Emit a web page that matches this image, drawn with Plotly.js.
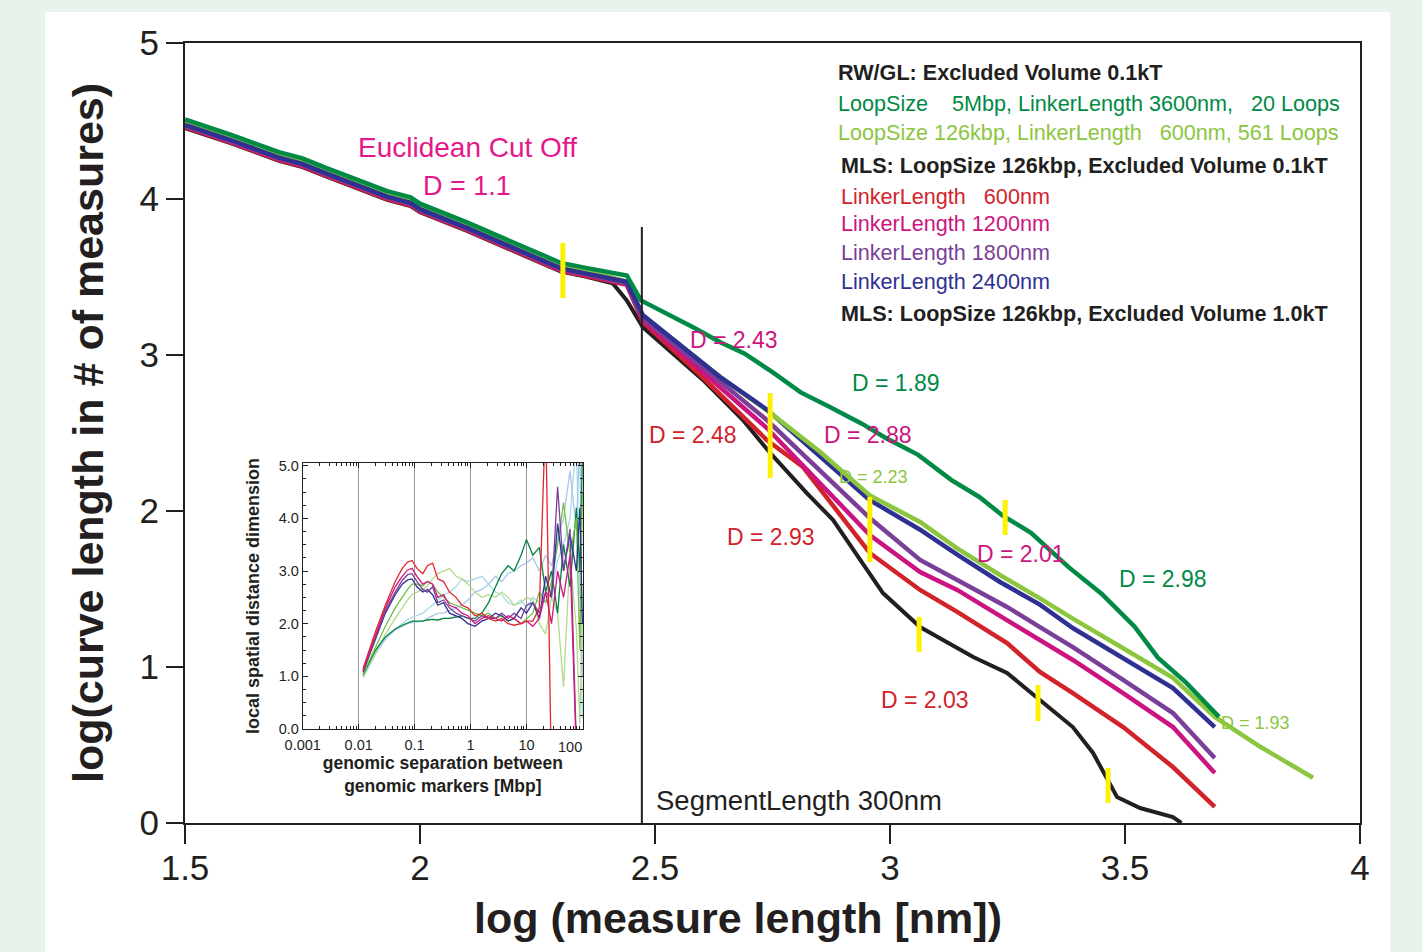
<!DOCTYPE html>
<html><head><meta charset="utf-8">
<script src="https://cdn.plot.ly/plotly-3.0.1.min.js"></script>
<style>
html,body{margin:0;padding:0;background:#e8f3ec;width:1422px;height:952px;overflow:hidden;}
#chart{position:absolute;left:45px;top:12px;width:1345px;height:940px;background:#fff;}
</style></head><body><div id="chart"></div>
<script>
// ---------- main chart data: log(measure length [nm]) vs log(curve length) ----------
const darkGreenX = [1.5,1.6,1.7,1.75,1.8,1.85,1.93,1.98,2.0,2.1,2.2,2.3,2.35,2.44,2.47,2.51,2.58,2.64,2.69,2.75,2.81,2.87,2.94,2.99,3.06,3.13,3.19,3.24,3.30,3.38,3.45,3.52,3.57,3.63,3.70];
const darkGreenY = [4.51,4.41,4.30,4.26,4.20,4.14,4.05,4.01,3.97,3.85,3.72,3.59,3.56,3.51,3.35,3.29,3.18,3.08,3.01,2.89,2.76,2.67,2.56,2.47,2.36,2.20,2.09,1.97,1.86,1.64,1.47,1.26,1.06,0.90,0.68];

const lightGreenX = [1.5,1.6,1.7,1.75,1.8,1.85,1.93,1.98,2.0,2.1,2.2,2.3,2.35,2.44,2.474,2.568,2.638,2.745,2.851,2.957,3.064,3.143,3.234,3.319,3.389,3.496,3.602,3.691,3.787,3.900];
const lightGreenY = [4.495,4.395,4.285,4.245,4.185,4.125,4.035,3.995,3.955,3.835,3.705,3.575,3.545,3.47,3.25,3.03,2.86,2.63,2.38,2.10,1.93,1.76,1.59,1.44,1.31,1.12,0.93,0.68,0.49,0.29];
const lightGreenSplit = 2.745; // below this it runs hidden under the bundle

const blueX = [1.5,1.6,1.7,1.75,1.8,1.85,1.93,1.98,2.0,2.1,2.2,2.3,2.35,2.44,2.474,2.568,2.638,2.738,2.957,3.064,3.143,3.234,3.319,3.389,3.496,3.602,3.691];
const blueY = [4.475,4.375,4.265,4.225,4.165,4.105,4.015,3.975,3.935,3.815,3.685,3.555,3.525,3.47,3.256,3.03,2.86,2.65,2.07,1.88,1.72,1.545,1.40,1.25,1.06,0.865,0.615];

const purpleX = [1.5,1.6,1.7,1.75,1.8,1.85,1.93,1.98,2.0,2.1,2.2,2.3,2.35,2.44,2.474,2.596,2.738,2.957,3.064,3.143,3.249,3.319,3.389,3.496,3.602,3.691];
const purpleY = [4.47,4.37,4.26,4.22,4.16,4.10,4.01,3.97,3.93,3.81,3.68,3.55,3.52,3.46,3.236,2.936,2.583,1.955,1.686,1.558,1.385,1.256,1.128,0.917,0.705,0.417];

const magentaX = [1.5,1.6,1.7,1.75,1.8,1.85,1.93,1.98,2.0,2.1,2.2,2.3,2.35,2.44,2.474,2.596,2.738,2.957,3.064,3.143,3.249,3.319,3.389,3.496,3.602,3.691];
const magentaY = [4.465,4.365,4.255,4.215,4.155,4.095,4.005,3.965,3.925,3.805,3.675,3.545,3.515,3.455,3.224,2.904,2.532,1.846,1.609,1.494,1.301,1.173,1.045,0.833,0.615,0.321];

const redX = [1.5,1.6,1.7,1.75,1.8,1.85,1.93,1.98,2.0,2.1,2.2,2.3,2.35,2.44,2.474,2.596,2.738,2.815,2.957,3.064,3.143,3.249,3.319,3.389,3.496,3.602,3.691];
const redY = [4.46,4.36,4.25,4.21,4.15,4.09,4.00,3.96,3.92,3.80,3.67,3.54,3.51,3.45,3.212,2.872,2.455,2.282,1.731,1.494,1.353,1.154,0.968,0.833,0.615,0.359,0.103];

const blackX = [1.5,1.6,1.7,1.75,1.8,1.85,1.93,1.98,2.0,2.1,2.2,2.3,2.35,2.41,2.44,2.474,2.602,2.687,2.745,2.823,2.879,2.957,2.985,3.064,3.177,3.249,3.319,3.389,3.432,3.462,3.483,3.532,3.602,3.62];
const blackY = [4.455,4.355,4.245,4.205,4.145,4.085,3.995,3.955,3.915,3.795,3.665,3.535,3.505,3.46,3.35,3.179,2.840,2.583,2.372,2.115,1.942,1.603,1.474,1.256,1.064,0.962,0.788,0.615,0.449,0.276,0.167,0.096,0.038,0.0];

// yellow crossover markers (x, lower y, upper y)
const markerX  = [2.304, 2.745, 2.957, 3.245, 3.062, 3.315, 3.464];
const markerLo = [3.365, 2.212, 1.673, 1.846, 1.096, 0.654, 0.128];
const markerHi = [3.718, 2.756, 2.090, 2.071, 1.321, 0.885, 0.353];

// segment length cut line
const cutX = 2.472;
const cutTop = 3.82;

// ---------- inset data: local spatial distance dimension vs genomic separation [Mbp] ----------
const insetX = [0.012,0.02,0.03,0.045,0.06,0.075,0.09,0.11,0.14,0.17,0.21,0.26,0.33,0.42,0.55,0.7,0.9,1.2,1.6,2.1,2.8,3.6,4.7,6,8,10,13,17,22,28,36,46,60,78,90,100];
const insetCyan      = [0.97,1.42,1.70,1.90,2.00,2.08,2.12,2.15,2.20,2.28,2.35,2.45,2.55,2.60,2.70,2.85,2.80,2.85,2.90,2.75,2.60,2.55,2.40,2.35,2.45,2.30,2.50,2.40,2.80,2.60,3.20,3.50,4.00,5.50,2.50,0.20];
const insetLightBlue = [1.00,1.45,1.72,1.88,1.95,2.00,2.02,2.03,2.05,2.10,2.15,2.20,2.20,2.25,2.30,2.35,2.45,2.60,2.65,2.75,2.90,2.80,2.95,3.00,3.10,3.15,3.25,3.00,3.30,3.10,3.60,4.00,4.90,3.80,5.50,1.00];
const insetPaleGreen = [1.00,1.45,1.80,2.10,2.30,2.45,2.55,2.60,2.65,2.72,2.85,2.95,3.00,3.05,2.90,2.85,2.75,2.60,2.50,2.55,2.50,2.60,2.50,2.35,2.40,2.50,2.45,2.00,1.80,2.50,2.20,0.80,3.30,1.90,0.10,2.20];
const insetDarkGreen = [1.03,1.50,1.75,1.90,1.97,2.02,2.05,2.05,2.05,2.07,2.08,2.07,2.10,2.10,2.12,2.15,2.10,2.10,2.20,2.40,2.70,2.95,3.10,3.00,3.30,3.60,3.30,3.45,2.60,3.00,2.20,3.50,2.70,4.20,3.00,5.20];
const insetGreen     = [1.05,1.55,1.95,2.30,2.50,2.65,2.75,2.75,2.72,2.80,2.75,2.60,2.50,2.40,2.35,2.30,2.25,2.20,2.15,2.20,2.10,2.15,2.05,2.10,2.00,2.10,2.20,2.60,2.40,2.80,3.50,4.30,3.30,4.00,1.50,4.50];
const insetBlue      = [1.08,1.70,2.20,2.55,2.75,2.83,2.85,2.70,2.60,2.65,2.55,2.35,2.40,2.20,2.15,2.10,2.00,1.95,2.05,2.10,2.20,2.15,2.05,2.10,2.30,2.20,2.40,2.10,2.90,2.50,3.90,3.00,3.70,3.00,4.20,2.00];
const insetPurple    = [1.10,1.75,2.25,2.60,2.82,2.93,2.95,2.80,2.65,2.60,2.70,2.40,2.45,2.30,2.20,2.15,2.10,2.05,2.15,2.10,2.10,2.20,2.10,2.20,2.10,2.35,2.40,2.20,2.60,2.50,4.60,3.00,3.80,-0.30,null,null];
const insetMagenta   = [1.12,1.80,2.30,2.70,2.90,3.02,3.05,2.90,2.75,2.80,2.75,2.50,2.55,2.35,2.30,2.20,2.15,2.00,2.10,2.15,2.10,2.05,2.15,2.10,2.00,2.05,1.95,2.10,2.60,2.00,3.00,2.50,3.30,-0.50,null,null];
const insetRed       = [1.15,1.85,2.35,2.80,3.05,3.17,3.20,3.05,2.95,3.10,3.15,2.85,2.80,2.60,2.50,2.35,2.30,2.15,2.20,2.10,2.05,2.10,2.00,1.97,2.00,2.05,2.05,2.30,6.00,-1.00,null,null,null,null,null,null];
const insetTickVals = [0.001,0.01,0.1,1,10,100];
const insetTickText = ['0.001','0.01','0.1','1','10',''];

// ---------- styling ----------
const FONT = 'Liberation Sans, Arial, Helvetica, sans-serif';
const INK = '#231f20';
const C = {
  dkgreen:'#008a45', ltgreen:'#8cc63f', red:'#d2232a', magenta:'#cc1480',
  purple:'#7a3f98', blue:'#2e3192', black:'#231f20', yellow:'#fff200', pink:'#e5188a'
};

const traces = [];
function line(x, y, color, width, xa, ya) {
  traces.push({type:'scatter', mode:'lines', x:x, y:y, xaxis:xa||'x', yaxis:ya||'y',
    line:{color:color, width:width}, showlegend:false, hoverinfo:'skip', connectgaps:false});
}
// light green: hidden part first (bottom layer), visible branch later (top layer)
const lgCut = lightGreenX.findIndex(v => v >= lightGreenSplit);
line(lightGreenX.slice(0, lgCut + 1), lightGreenY.slice(0, lgCut + 1), C.ltgreen, 4.5);
line(blackX, blackY, C.black, 4);
line(redX, redY, C.red, 4.5);
line(magentaX, magentaY, C.magenta, 4.5);
line(purpleX, purpleY, C.purple, 4.5);
line(blueX, blueY, C.blue, 4.5);
line(lightGreenX.slice(lgCut), lightGreenY.slice(lgCut), C.ltgreen, 4.5);
line(darkGreenX, darkGreenY, C.dkgreen, 4.5);

// cut line
line([cutX, cutX], [0, cutTop], INK, 2);

// yellow markers
const mx = [], my = [];
markerX.forEach((v,i)=>{ mx.push(v, v, null); my.push(markerLo[i], markerHi[i], null); });
line(mx, my, C.yellow, 5);

// inset lines
const insetSeries = [
  [insetCyan,'#a3dbe9'], [insetLightBlue,'#a9c6ea'], [insetPaleGreen,'#b5d98c'],
  [insetDarkGreen,'#00843d'], [insetGreen,'#72bf44'], [insetBlue,'#2e3192'],
  [insetPurple,'#7a3f98'], [insetMagenta,'#d4147f'], [insetRed,'#e3262b']
];
insetSeries.forEach(s => line(insetX, s[0], s[1], 1.3, 'x2', 'y2'));

function ann(text, x, y, color, size, opts) {
  return Object.assign({text:text, x:x, y:y, xref:'x', yref:'y', showarrow:false,
    font:{family:FONT, size:size, color:color}, xanchor:'center', yanchor:'middle'}, opts||{});
}
const NB = '\u00A0';
const LS = 21.6;
const annotations = [
  ann('Euclidean Cut Off', 2.100, 4.333, C.pink, 28),
  ann('D = 1.1', 2.100, 4.083, C.pink, 27),
  ann('D = 2.43', 2.668, 3.096, C.magenta, 23),
  ann('D = 1.89', 3.013, 2.821, C.dkgreen, 23),
  ann('D = 2.48', 2.581, 2.487, C.red, 23),
  ann('D = 2.88', 2.953, 2.487, C.magenta, 23),
  ann('D = 2.23', 2.964, 2.218, C.ltgreen, 18),
  ann('D = 2.93', 2.747, 1.833, C.red, 23),
  ann('D = 2.01', 3.279, 1.724, C.magenta, 23),
  ann('D = 2.98', 3.581, 1.564, C.dkgreen, 23),
  ann('D = 2.03', 3.074, 0.788, C.red, 23),
  ann('D = 1.93', 3.777, 0.641, C.ltgreen, 18),
  ann('SegmentLength 300nm', 2.497, 0.147, INK, 27.5, {xanchor:'left'}),
  // legend block
  ann('<b>RW/GL: Excluded Volume 0.1kT</b>', 2.885, 4.814, INK, LS, {xanchor:'left'}),
  ann('LoopSize'+NB+NB+NB+NB+'5Mbp, LinkerLength 3600nm,'+NB+NB+NB+'20 Loops', 2.885, 4.615, C.dkgreen, LS, {xanchor:'left'}),
  ann('LoopSize 126kbp, LinkerLength'+NB+NB+NB+'600nm, 561 Loops', 2.885, 4.429, C.ltgreen, LS, {xanchor:'left'}),
  ann('<b>MLS: LoopSize 126kbp, Excluded Volume 0.1kT</b>', 2.891, 4.212, INK, LS, {xanchor:'left'}),
  ann('LinkerLength'+NB+NB+NB+'600nm', 2.891, 4.013, C.red, LS, {xanchor:'left'}),
  ann('LinkerLength 1200nm', 2.891, 3.846, C.magenta, LS, {xanchor:'left'}),
  ann('LinkerLength 1800nm', 2.891, 3.660, C.purple, LS, {xanchor:'left'}),
  ann('LinkerLength 2400nm', 2.891, 3.474, C.blue, LS, {xanchor:'left'}),
  ann('<b>MLS: LoopSize 126kbp, Excluded Volume 1.0kT</b>', 2.891, 3.263, INK, LS, {xanchor:'left'}),
  // main x-axis title (placed as in the original figure, slightly left of centre)
  {text:'<b>log (measure length [nm])</b>', xref:'paper', yref:'paper', x:0.4706, y:-0.1218, showarrow:false,
   xanchor:'center', yanchor:'middle', font:{family:FONT, size:43, color:INK}},
  // inset "100" tick label nudged inside the frame
  {text:'100', xref:'paper', yref:'paper', x:0.3277, y:0.097, showarrow:false, xanchor:'center', yanchor:'middle',
   font:{family:FONT, size:14.5, color:INK}}
];

const layout = {
  width:1345, height:940,
  margin:{l:140, r:30, t:31, b:129},
  paper_bgcolor:'#ffffff', plot_bgcolor:'rgba(0,0,0,0)',
  font:{family:FONT, color:INK},
  showlegend:false,
  xaxis:{domain:[0,1], range:[1.5,4], tick0:1.5, dtick:0.5, ticks:'outside', ticklen:19, tickwidth:1.5, tickcolor:INK,
    showline:true, linewidth:2, linecolor:INK, mirror:true, showgrid:false, zeroline:false,
    tickfont:{family:FONT, size:35, color:INK}, ticklabelstandoff:-6},
  yaxis:{domain:[0,1], range:[0,5], tick0:0, dtick:1, ticks:'outside', ticklen:17, tickwidth:1.5, tickcolor:INK,
    showline:true, linewidth:2, linecolor:INK, mirror:true, showgrid:false, zeroline:false,
    tickfont:{family:FONT, size:35, color:INK},
    title:{text:'log(curve length in # of measures)', font:{family:FONT, size:43, color:INK, weight:700}, standoff:22}},
  xaxis2:{domain:[0.1002,0.3387], anchor:'y2', type:'log', range:[-3,2.01],
    tickmode:'array', tickvals:insetTickVals, ticktext:insetTickText,
    ticks:'inside', ticklen:5, tickcolor:INK, showline:true, linewidth:1, linecolor:INK, mirror:'allticks',
    showgrid:true, gridcolor:'#9a9a9a', gridwidth:1.2, zeroline:false,
    minor:{ticks:'inside', ticklen:3, tickcolor:INK, dtick:'D1', showgrid:false},
    tickfont:{family:FONT, size:14.5, color:INK}, ticklabelstandoff:3,
    title:{text:'genomic separation between<br>genomic markers [Mbp]', font:{family:FONT, size:17.5, color:INK, weight:700}, standoff:0}},
  yaxis2:{domain:[0.1205,0.4615], anchor:'x2', range:[0,5.05],
    tickmode:'array', tickvals:[0,1,2,3,4,5], ticktext:['0.0','1.0','2.0','3.0','4.0','5.0'],
    ticks:'inside', ticklen:5, tickcolor:INK, showline:true, linewidth:1, linecolor:INK, mirror:'allticks',
    showgrid:false, zeroline:false,
    minor:{ticks:'inside', ticklen:3, tickcolor:INK, dtick:0.25, tick0:0, showgrid:false},
    tickfont:{family:FONT, size:14.5, color:INK},
    title:{text:'local spatial distance dimension', font:{family:FONT, size:18, color:INK, weight:700}, standoff:14}},
  annotations:annotations
};

Plotly.newPlot('chart', traces, layout, {displayModeBar:false, staticPlot:true});
</script></body></html>
